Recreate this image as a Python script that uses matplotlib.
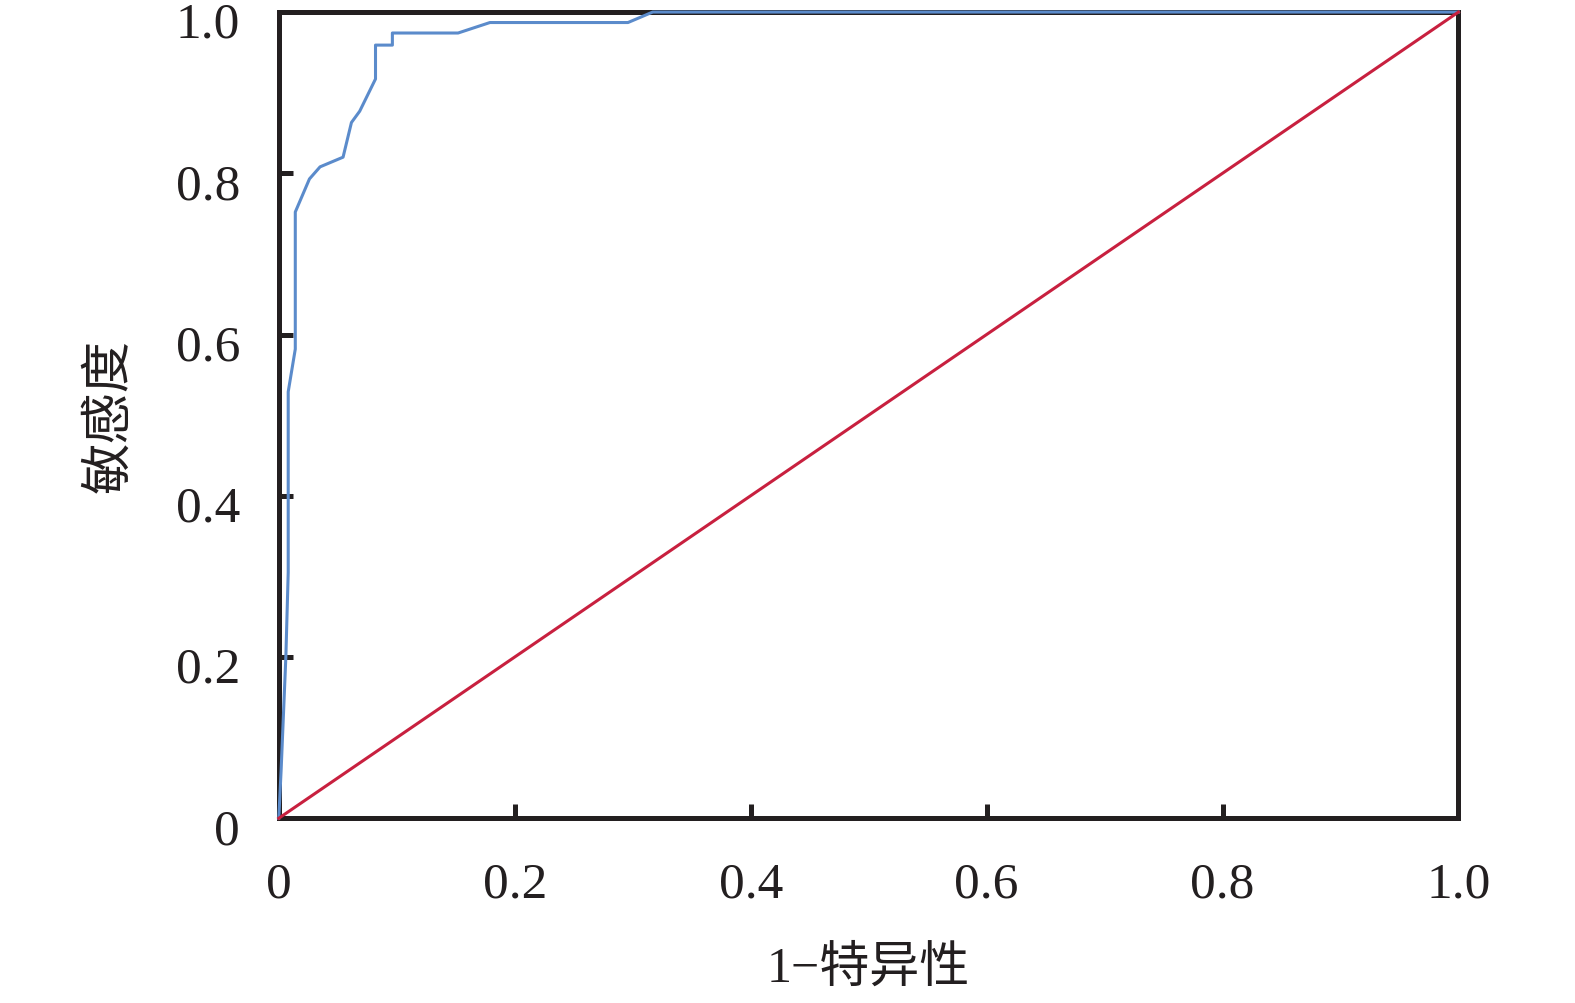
import matplotlib
matplotlib.use("Agg")
import matplotlib.pyplot as plt
import matplotlib.transforms as mtransforms

# ROC curve
fpr = [0.0, 0.002, 0.006, 0.008, 0.008, 0.014, 0.014, 0.026, 0.035, 0.0545, 0.0616,
       0.0686, 0.082, 0.082, 0.0963, 0.0963, 0.152, 0.179, 0.296, 0.317, 1.0]
tpr = [0.0, 0.06, 0.2, 0.305, 0.529, 0.582, 0.752, 0.793, 0.808, 0.820, 0.863,
       0.877, 0.917, 0.959, 0.959, 0.974, 0.974, 0.987, 0.987, 1.0, 1.0]
ref_x = [0.0, 1.0]
ref_y = [0.0, 1.0]

ticks = [0, 0.2, 0.4, 0.6, 0.8, 1.0]
tick_labels = ["0", "0.2", "0.4", "0.6", "0.8", "1.0"]

plt.rcParams['font.family'] = ['Liberation Serif', 'Noto Sans CJK SC']

fig = plt.figure(figsize=(15.75, 10.04), dpi=100)
ax = fig.add_axes([0.177, 0.184, 0.749, 0.803])

ax.plot(fpr, tpr, color="#5B8BCB", linewidth=2.2, clip_on=False, zorder=3)
ax.plot(ref_x, ref_y, color="#C8203F", linewidth=2.2, clip_on=False, zorder=3)

ax.set_xlim(0, 1)
ax.set_ylim(0, 1)
ax.set_xticks(ticks)
ax.set_xticklabels(tick_labels)
ax.set_yticks(ticks)
ax.set_yticklabels(tick_labels)

for s in ax.spines.values():
    s.set_linewidth(3.6)
    s.set_color("#231F20")

ax.tick_params(axis="both", direction="in", length=10, width=3.6, color="#231F20",
               labelsize=37, labelcolor="#231F20")
ax.tick_params(axis="y", pad=28)
ax.tick_params(axis="x", pad=31)

# y tick labels sit a little below their ticks in the reference
shift = mtransforms.ScaledTranslation(0, -0.07, fig.dpi_scale_trans)
for lab in ax.get_yticklabels():
    lab.set_transform(lab.get_transform() + shift)

ax.set_xlabel("1\u2212特异性", fontsize=36, color="#231F20", labelpad=27)
ax.set_ylabel("敏感度", fontsize=37, color="#231F20", labelpad=30)

fig.savefig("out.png", dpi=100)
